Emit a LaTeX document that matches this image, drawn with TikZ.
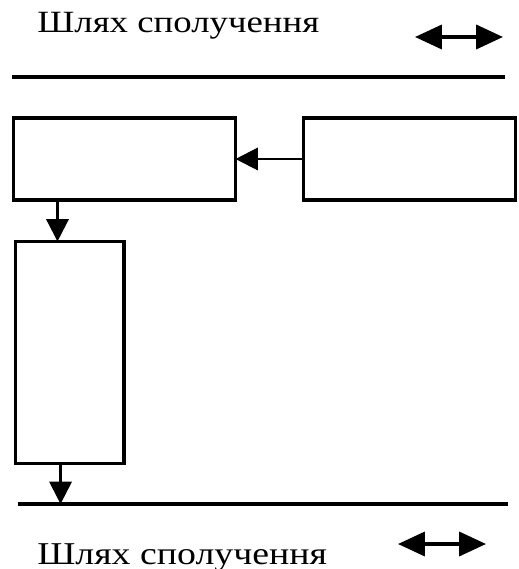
\documentclass[tikz,border=0pt]{standalone}
\usepackage{fontspec}
\setmainfont{Liberation Serif}
\newfontfamily\wideserif[FakeStretch=1.19]{Liberation Serif}
\usetikzlibrary{arrows.meta}
\begin{document}
\begin{tikzpicture}[x=0.025cm,y=-0.025cm,
  box/.style={draw,line width=2.2pt,inner sep=0pt,outer sep=0pt},
  rail/.style={line width=2.8pt},
  link/.style={draw,line width=1.6pt,-{Triangle[length=0.56cm,width=0.56cm]}},
  both/.style={draw,line width=2.4pt,{Triangle[length=0.67cm,width=0.6cm]}-{Triangle[length=0.67cm,width=0.6cm]}},
  label/.style={anchor=base west,inner sep=0pt,font=\wideserif\fontsize{22}{26}\selectfont}]
\useasboundingbox (0,0) rectangle (518,569);

\node[label] (t1) at (37,33) {Шлях сполучення};
\node[label,font=\wideserif\fontsize{22.6}{26}\selectfont] (t2) at (37,564) {Шлях сполучення};

\coordinate (r1) at (12,77);
\coordinate (r2) at (505,77);
\coordinate (r3) at (18,504);
\coordinate (r4) at (508,504);
\draw[rail] (r1) -- (r2);
\draw[rail] (r3) -- (r4);

\coordinate (d1) at (415,37);
\coordinate (d2) at (503,37);
\coordinate (d3) at (398,544);
\coordinate (d4) at (486,544);
\path[both] (d1) -- (d2);
\path[both] (d3) -- (d4);

\node[box,minimum width=5.55cm,minimum height=2.05cm] (1) at (124.5,159) {};
\node[box,minimum width=5.32cm,minimum height=2.05cm] (2) at (409.5,159) {};
\node[box,minimum width=2.71cm,minimum height=5.55cm] (3) at (69.75,352.5) {};

\coordinate (s1) at ([xshift=1.1cm]1.south west);
\coordinate (s2) at ([xshift=1.125cm]3.south west);

\path[link] (2.west) -- (1.east);
\path[link] (s1) -- (s1 |- 3.north);
\path[link] (s2) -- (s2 |- r3);
\end{tikzpicture}
\end{document}
